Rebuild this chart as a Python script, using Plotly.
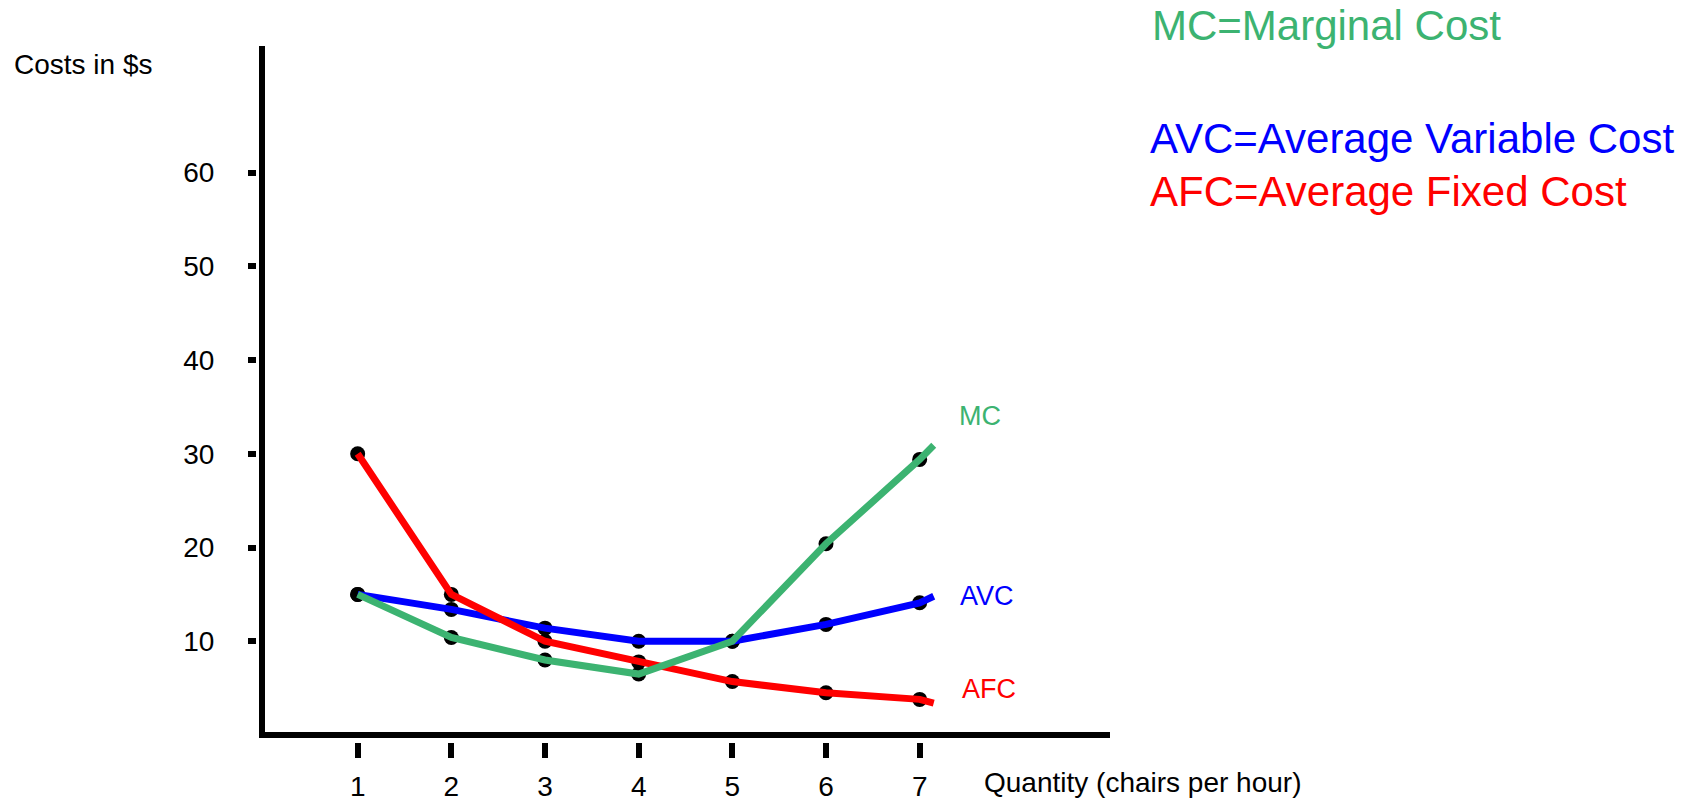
import plotly.graph_objects as go

# ---- data ----
quantity = [1, 2, 3, 4, 5, 6, 7]
afc = [30, 15, 10, 7.8, 5.7, 4.5, 3.8]
avc = [15, 13.4, 11.4, 10, 10, 11.8, 14.1]
mc = [15, 10.4, 8.0, 6.5, 10, 20.4, 29.4]
line_end_q = 7.15
afc_end = 3.4
avc_end = 14.8
mc_end = 30.9
y_tick_vals = [10, 20, 30, 40, 50, 60]
x_tick_vals = [1, 2, 3, 4, 5, 6, 7]
x_range = [0, 9]
y_range = [0, 73.5]

GREEN = "#3cb371"
BLUE = "#0000ff"
RED = "#ff0000"
FONT = "Liberation Sans, Arial, sans-serif"

W, H = 1705, 801
# paper area (pixels)
PL, PR, PT, PB = 256, 1107, 46, 742
pw, ph = PR - PL, PB - PT
DATA_LEFT, DATA_BOTTOM = 264, 735


def px_x(p):
    return (p - PL) / pw


def px_y(p):
    return (PB - p) / ph


fig = go.Figure()

# black dots (under the lines)
for ys in (afc, avc, mc):
    fig.add_trace(go.Scatter(x=quantity, y=ys, mode="markers",
                             marker=dict(color="black", size=15),
                             hoverinfo="skip", showlegend=False))

for ys, end, col in ((avc, avc_end, BLUE), (afc, afc_end, RED), (mc, mc_end, GREEN)):
    fig.add_trace(go.Scatter(x=quantity + [line_end_q], y=ys + [end], mode="lines",
                             line=dict(color=col, width=7),
                             showlegend=False, hoverinfo="skip"))

fig.update_layout(
    width=W, height=H,
    margin=dict(l=PL, r=W - PR, t=PT, b=H - PB, pad=0, autoexpand=False),
    plot_bgcolor="white", paper_bgcolor="white",
    font=dict(family=FONT, color="black", size=28),
    showlegend=False,
    xaxis=dict(range=x_range, domain=[px_x(DATA_LEFT), 1], anchor="free", position=0,
               automargin=False,
               showgrid=False, zeroline=False, showline=False,
               tickmode="array", tickvals=x_tick_vals, ticktext=[str(v) for v in x_tick_vals],
               ticks="outside", ticklen=15, tickwidth=6, tickcolor="black",
               ticklabelstandoff=4, tickfont=dict(size=28, family=FONT, color="black")),
    yaxis=dict(range=y_range, domain=[px_y(DATA_BOTTOM), 1], anchor="free", position=0,
               automargin=False,
               showgrid=False, zeroline=False, showline=False,
               tickmode="array", tickvals=y_tick_vals, ticktext=[str(v) for v in y_tick_vals],
               ticks="outside", ticklen=8, tickwidth=6, tickcolor="black",
               ticklabelstandoff=28, tickfont=dict(size=28, family=FONT, color="black")),
)

# axis lines
fig.add_shape(type="line", xref="paper", yref="paper",
              x0=px_x(262), x1=px_x(262), y0=px_y(738), y1=px_y(46),
              line=dict(color="black", width=6))
fig.add_shape(type="line", xref="paper", yref="paper",
              x0=px_x(259), x1=px_x(1110), y0=px_y(735), y1=px_y(735),
              line=dict(color="black", width=6))

# curve labels
for txt, x, y, col in (("MC", 7.40, 34.0, GREEN), ("AVC", 7.41, 14.8, BLUE), ("AFC", 7.43, 4.9, RED)):
    fig.add_annotation(text=txt, x=x, y=y, xref="x", yref="y", xanchor="left", yanchor="middle",
                       showarrow=False, font=dict(size=27, color=col, family=FONT))

# key text (top right)
for txt, px, py, col in (("MC=Marginal Cost", 1150, 26, GREEN),
                         ("AVC=Average Variable Cost", 1148, 138, BLUE),
                         ("AFC=Average Fixed Cost", 1148, 191, RED)):
    fig.add_annotation(text=txt, x=px_x(px), y=px_y(py), xref="paper", yref="paper",
                       xanchor="left", yanchor="middle", showarrow=False,
                       font=dict(size=42, color=col, family=FONT))

# axis titles
fig.add_annotation(text="Costs in $s", x=px_x(12), y=px_y(64), xref="paper", yref="paper",
                   xanchor="left", yanchor="middle", showarrow=False,
                   font=dict(size=28, color="black", family=FONT))
fig.add_annotation(text="Quantity (chairs per hour)", x=px_x(982), y=px_y(782), xref="paper", yref="paper",
                   xanchor="left", yanchor="middle", showarrow=False,
                   font=dict(size=28, color="black", family=FONT))

fig.write_html("out.html", config={"displayModeBar": False})
with open("out.html", "r", encoding="utf-8") as f:
    html = f.read()
html = html.replace("<body>", '<body style="margin:0">', 1)
with open("out.html", "w", encoding="utf-8") as f:
    f.write(html)
